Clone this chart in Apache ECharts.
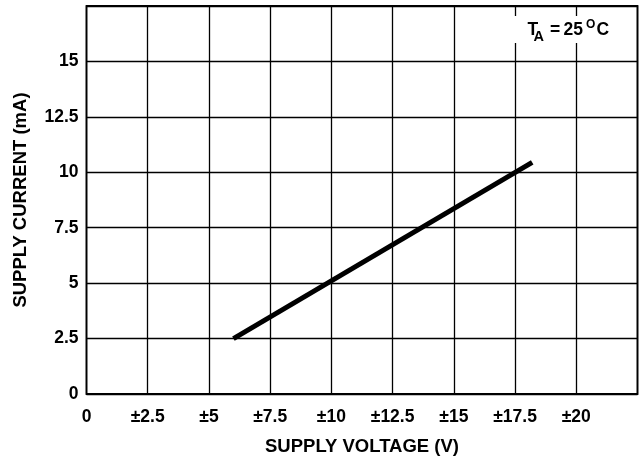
<!DOCTYPE html>
<html><head><meta charset="utf-8">
<script src="https://cdn.jsdelivr.net/npm/echarts@6/dist/echarts.min.js"></script>
<style>html,body{margin:0;padding:0;background:#fff}#c{width:642px;height:458px}</style>
</head><body><div id="c"></div>
<script>
const xTicks = [0, 2.5, 5, 7.5, 10, 12.5, 15, 17.5, 20, 22.5];
const xTickLabels = ['0', '\u00b12.5', '\u00b15', '\u00b17.5', '\u00b110', '\u00b112.5', '\u00b115', '\u00b117.5', '\u00b120', ''];
const yTickLabels = ['0', '2.5', '5', '7.5', '10', '12.5', '15', ''];
const supplyVoltage = [6, 18.2];
const supplyCurrent = [2.5, 10.45];

const F = 'Liberation Sans, Arial, Helvetica, sans-serif';
const chart = echarts.init(document.getElementById('c'));
const txt = (text, x, y, size) => ({
  type: 'text', x: x, y: y, z: 101,
  style: { text: text, fontFamily: F, fontWeight: 'bold', fontSize: size, fill: '#000', verticalAlign: 'middle', align: 'left' }
});
chart.setOption({
  animation: false,
  grid: { left: 86.5, right: 4.5, top: 6, bottom: 64, show: true, borderColor: '#000', borderWidth: 1.8,
          containLabel: false, outerBoundsMode: 'none' },
  xAxis: {
    type: 'value', min: 0, max: 22.5, interval: 2.5,
    name: 'SUPPLY VOLTAGE (V)', nameLocation: 'middle', nameGap: 43,
    nameTextStyle: { fontFamily: F, fontWeight: 'bold', fontSize: 18.5, color: '#000' },
    axisLine: { show: false }, axisTick: { show: false },
    axisLabel: { fontFamily: F, fontWeight: 'bold', fontSize: 17.5, color: '#000', margin: 14,
      formatter: v => { const i = xTicks.findIndex(t => Math.abs(t - v) < 1e-6); return i >= 0 ? xTickLabels[i] : ''; } },
    splitLine: { show: true, lineStyle: { color: '#000', width: 1.3 } }
  },
  yAxis: {
    type: 'value', min: 0, max: 17.5, interval: 2.5,
    name: 'SUPPLY CURRENT (mA)', nameLocation: 'middle', nameGap: 56,
    nameTextStyle: { fontFamily: F, fontWeight: 'bold', fontSize: 18.5, color: '#000' },
    axisLine: { show: false }, axisTick: { show: false },
    axisLabel: { fontFamily: F, fontWeight: 'bold', fontSize: 17.5, color: '#000', margin: 8,
      formatter: v => yTickLabels[Math.round(v / 2.5)] || '' },
    splitLine: { show: true, lineStyle: { color: '#000', width: 1.3 } }
  },
  series: [{
    type: 'line', data: supplyVoltage.map((x, i) => [x, supplyCurrent[i]]),
    symbol: 'none', lineStyle: { color: '#000', width: 5, cap: 'butt' }
  }],
  graphic: [
    { type: 'rect', shape: { x: 511, y: 16, width: 118, height: 27 }, style: { fill: '#fff' }, z: 100 },
    txt('T', 527.5, 30, 17.5),
    txt('A', 533.5, 36.5, 14.5),
    txt('=', 550, 30, 17.5),
    txt('25', 563.5, 30, 17.5),
    txt('O', 586, 25, 12),
    txt('C', 596.5, 30, 17.5)
  ]
});
</script></body></html>
